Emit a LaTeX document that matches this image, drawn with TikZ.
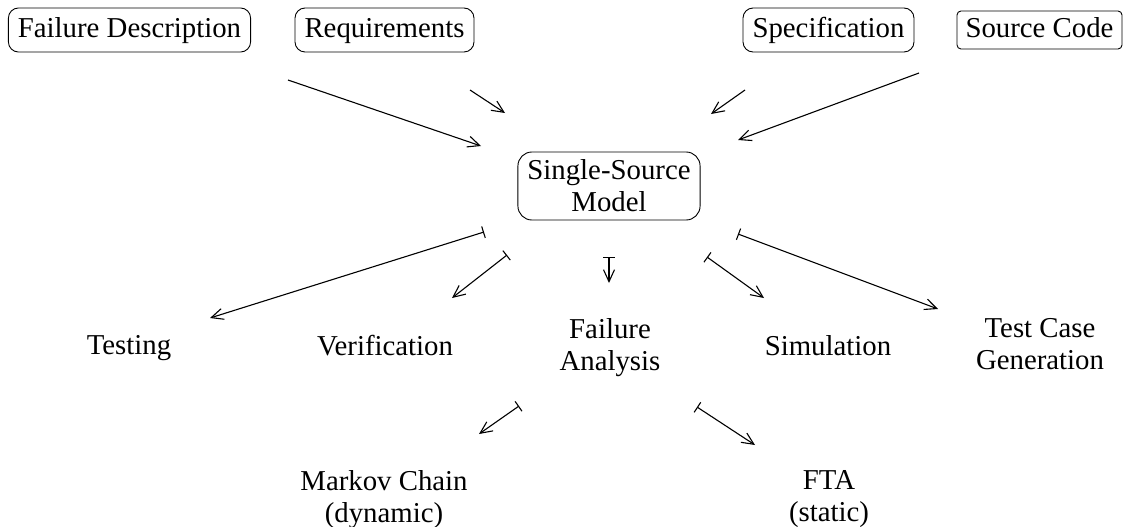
\documentclass[tikz,border=0pt]{standalone}
\usepackage{fontspec}
\setmainfont{Liberation Serif}
\usetikzlibrary{arrows.meta}
\begin{document}
\begin{tikzpicture}[x=1pt,y=-1pt,
  every node/.style={font=\fontsize{28.8}{32}\selectfont, align=center, inner sep=0pt},
  srcbox/.style={draw, rounded corners=10pt, line width=0.9pt, minimum height=44pt,
    inner xsep=9.5pt, text height=20pt, text depth=4pt},
  codebox/.style={draw, rounded corners=4pt, line width=0.9pt, minimum height=38pt,
    inner xsep=8.5pt, text height=20pt, text depth=4pt},
  modelbox/.style={draw, rounded corners=14pt, line width=0.9pt, minimum height=68pt, inner xsep=9.5pt},
  feed/.style={line width=1.1pt, -{Straight Barb[length=12pt,width=11pt]}},
  derive/.style={line width=1.1pt, {Bar[width=12pt]}-{Straight Barb[length=12pt,width=11pt]}}
]
\useasboundingbox (0,0) rectangle (1124,527);

% inputs
\node[srcbox] (fd) at (129.5,30) {Failure Description};
\node[srcbox] (req) at (384.5,30) {Requirements};
\node[srcbox] (spec) at (828.5,30) {Specification};
\node[codebox] (code) at (1039.5,30) {Source Code};

% central model
\node[modelbox] (ssm) at (609,186) {Single-Source\\Model};

% uses of the model
\node[anchor=base] (test) at (129,354) {Testing};
\node[anchor=base] (verif) at (385,355) {Verification};
\node (fa) at (610,347.3) {Failure\\Analysis};
\node[anchor=base] (sim) at (828,355) {Simulation};
\node (tcg) at (1040,344.6) {Test Case\\Generation};
\node (mc) at (384,499.2) {Markov Chain\\(dynamic)};
\node (fta) at (829,499.3) {FTA\\(static)};

% connector ends
\coordinate (fd-out) at (288,80);   \coordinate (ssm-fd) at (481,146);
\coordinate (req-out) at (470,90);  \coordinate (ssm-req) at (505,113);
\coordinate (spec-out) at (745,90); \coordinate (ssm-spec) at (711,114);
\coordinate (code-out) at (919,73); \coordinate (ssm-code) at (738,140);

\coordinate (ssm-test) at (484,232);  \coordinate (test-in) at (210,318);
\coordinate (ssm-verif) at (507,255); \coordinate (verif-in) at (452,298);
\coordinate (ssm-fa) at (609,257);    \coordinate (fa-in) at (609,283);
\coordinate (ssm-sim) at (707,257);   \coordinate (sim-in) at (764,298);
\coordinate (ssm-tcg) at (738,234);   \coordinate (tcg-in) at (938,309);
\coordinate (fa-mc) at (519,406);     \coordinate (mc-in) at (479,434);
\coordinate (fa-fta) at (697,407);    \coordinate (fta-in) at (755,445);

\draw[feed] (fd-out) -- (ssm-fd);
\draw[feed] (req-out) -- (ssm-req);
\draw[feed] (spec-out) -- (ssm-spec);
\draw[feed] (code-out) -- (ssm-code);

\draw[derive] (ssm-test) -- (test-in);
\draw[derive] (ssm-verif) -- (verif-in);
\draw[derive] (ssm-fa) -- (fa-in);
\draw[derive] (ssm-sim) -- (sim-in);
\draw[derive] (ssm-tcg) -- (tcg-in);
\draw[derive] (fa-mc) -- (mc-in);
\draw[derive] (fa-fta) -- (fta-in);
\end{tikzpicture}
\end{document}
